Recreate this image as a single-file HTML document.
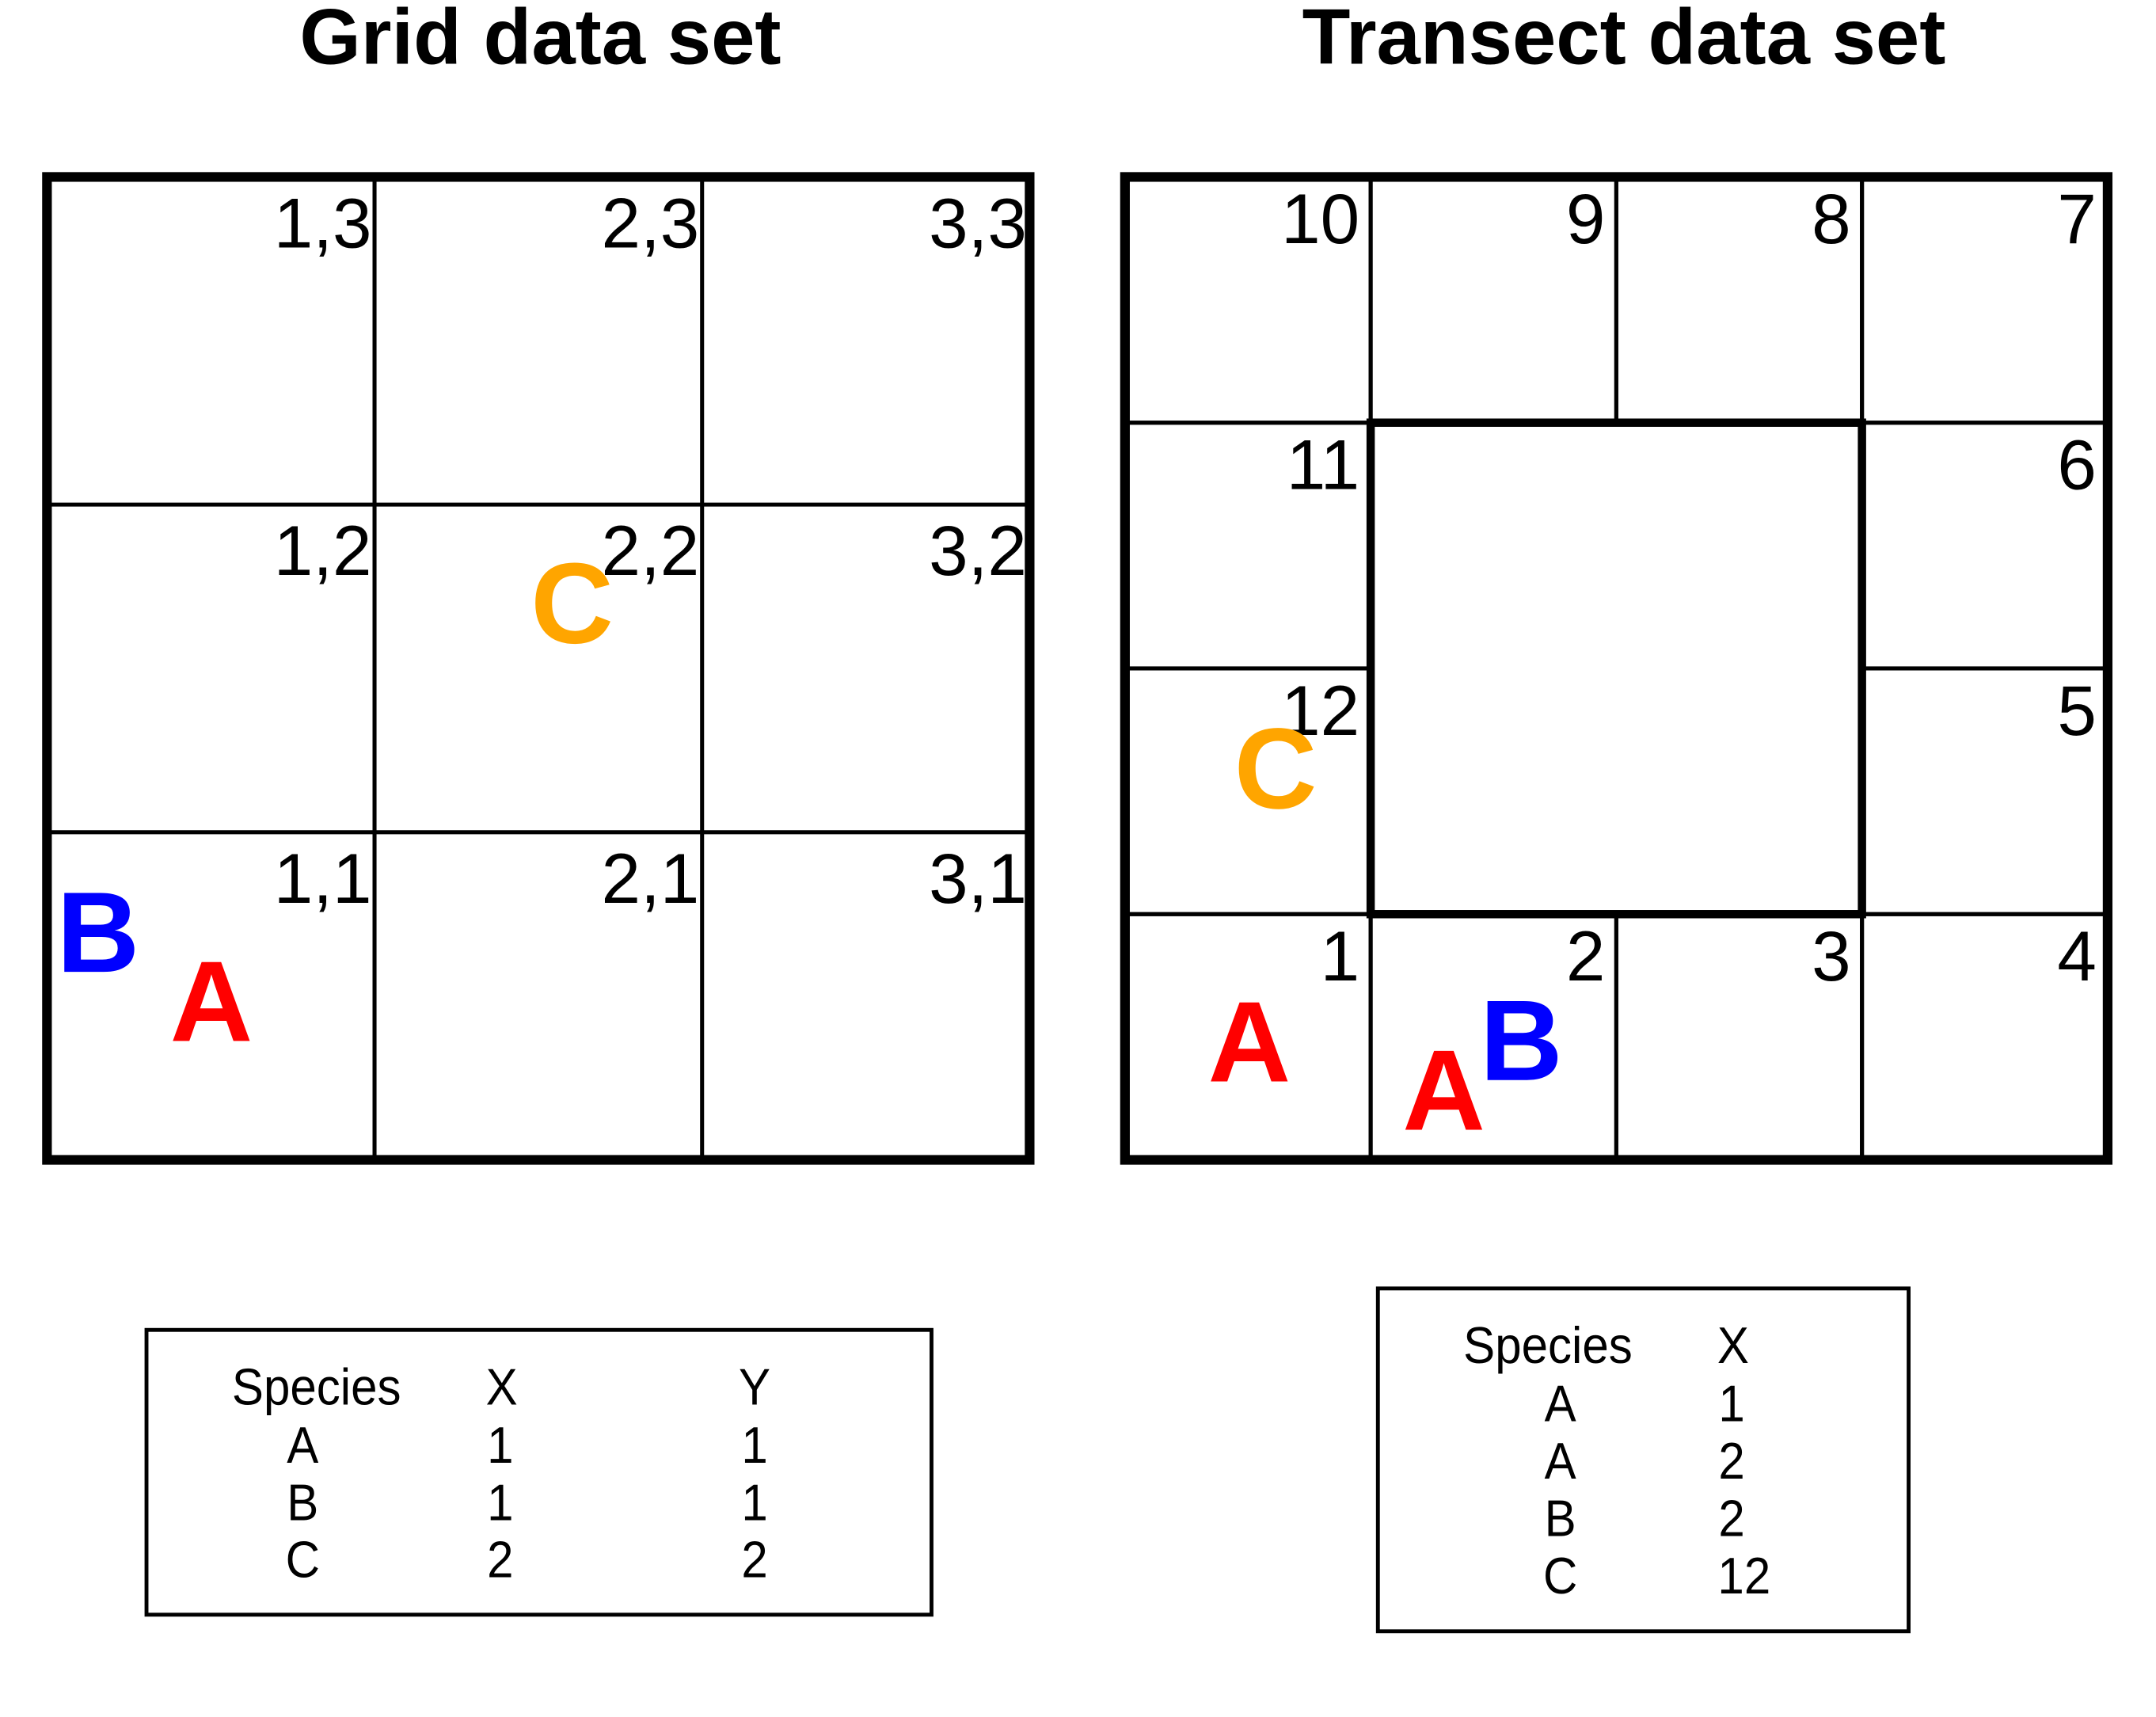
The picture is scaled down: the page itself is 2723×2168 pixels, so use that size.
<!DOCTYPE html>
<html><head><meta charset="utf-8"><style>
html,body{margin:0;padding:0;background:#fff;}
svg{display:block;}
text{font-family:"Liberation Sans",Arial,sans-serif;}
</style></head><body>
<svg id="fig" width="2723" height="2168" viewBox="0 0 1560 1242" preserveAspectRatio="none" xmlns="http://www.w3.org/2000/svg">
<rect width="1560" height="1242" fill="#fff"/>
<text x="391" y="46" font-size="57" font-weight="bold" text-anchor="middle">Grid data set</text>
<text x="1175" y="46" font-size="57" font-weight="bold" text-anchor="middle">Transect data set</text>
<g id="grid"></g>
<g id="tran"></g>
<g id="tab1"></g>
<g id="tab2"></g>
</svg>
<script>
// Grid data set
const gridSpecies = ["A","B","C"];
const gridX = [1,1,2];
const gridY = [1,1,2];
// Transect data set
const tranSpecies = ["A","A","B","C"];
const tranX = [1,2,2,12];
const colors = {A:"#ff0000",B:"#0000ff",C:"#ffa500"};

const NS="http://www.w3.org/2000/svg";
function mk(tag,attrs,parent,txt){const e=document.createElementNS(NS,tag);for(const k in attrs)e.setAttribute(k,attrs[k]);if(txt!==undefined)e.textContent=txt;parent.appendChild(e);return e;}

// ---- grid panel ----
const G=document.getElementById('grid');
const gx0=34,gy0=128,gs=711,gc=gs/3;
function gcx(i){return gx0+(i-1)*gc;}
function gcy(j){return gy0+(3-j)*gc;}
for(let k=1;k<3;k++){
  const vl=mk('line',{x1:gx0+k*gc,y1:gy0,x2:gx0+k*gc,y2:gy0+gs,stroke:'#000','stroke-width':2.9},G);
  
  
  const hl=mk('line',{x1:gx0,y1:gy0+k*gc,x2:gx0+gs,y2:gy0+k*gc,stroke:'#000','stroke-width':2.9},G);
  
  
}
const gb=mk('rect',{x:gx0,y:gy0,width:gs,height:gs,fill:'none',stroke:'#000','stroke-width':7},G);


for(let i=1;i<=3;i++)for(let j=1;j<=3;j++){
  const t=mk('text',{x:gcx(i)+gc-2,y:gcy(j)+51,'font-size':51,'text-anchor':'end'},G,i+','+j);
  
  
}
gridSpecies.forEach((s,k)=>{
  let x,y;
  const cx=gcx(gridX[k]),cy=gcy(gridY[k]);
  if(s==='A'){x=cx+89;y=cy+151;}
  else if(s==='B'){x=cx+7;y=cy+101;}
  else {x=cx+113;y=cy+100;}
  const t=mk('text',{x:x,y:y,'font-size':83,'font-weight':'bold',fill:colors[s]},G,s);
  
  
});

// ---- transect panel ----
const T=document.getElementById('tran');
const tx0=814,ty0=128,ts=711,tc=ts/4;
function tcell(n){
  if(n<=4) return [n-1,3];
  if(n<=7) return [3,7-n];
  if(n<=10) return [10-n,0];
  return [0,n-10];
}
for(let n=1;n<=12;n++){
  const [c,r]=tcell(n);
  const rc=mk('rect',{x:tx0+c*tc,y:ty0+r*tc,width:tc,height:tc,fill:'none',stroke:'#000','stroke-width':2.9},T);
  
  
  const t=mk('text',{x:tx0+c*tc+tc-8,y:ty0+r*tc+48,'font-size':51,'text-anchor':'end'},T,String(n));
  
  
}
const inner=mk('rect',{x:tx0+tc,y:ty0+tc,width:2*tc,height:2*tc,fill:'none',stroke:'#000','stroke-width':6},T);


const tb=mk('rect',{x:tx0,y:ty0,width:ts,height:ts,fill:'none',stroke:'#000','stroke-width':7},T);


const seen={};
tranSpecies.forEach((s,k)=>{
  const n=tranX[k];const [c,r]=tcell(n);
  const cx=tx0+c*tc,cy=ty0+r*tc;
  const idx=(seen[n]=(seen[n]||0)+1);
  let x,y;
  if(s==='A'&&idx===1&&n===1){x=cx+60;y=cy+121;}
  else if(s==='A'){x=cx+23;y=cy+156;}
  else if(s==='B'){x=cx+79;y=cy+120;}
  else {x=cx+79;y=cy+101;}
  const t=mk('text',{x:x,y:y,'font-size':83,'font-weight':'bold',fill:colors[s]},T,s);
  
  
});

// ---- tables ----
function txt(p,x,y,s,name){
  const t=mk('text',{x:x,y:y,'font-size':37,'text-anchor':'middle',transform:`translate(${x},0) scale(0.93,1) translate(${-x},0)`},p,s);
  
  
  return t;
}
const T1=document.getElementById('tab1');
const r1=mk('rect',{x:106,y:962,width:568,height:206,fill:'none',stroke:'#000','stroke-width':2.8},T1);


txt(T1,229,1016,'Species','table-header');txt(T1,363,1016,'X','table-header');txt(T1,546,1016,'Y','table-header');
gridSpecies.forEach((s,k)=>{
  const y=1058+k*41.5;
  txt(T1,219,y,s,'table-species');txt(T1,362,y,String(gridX[k]),'table-x');txt(T1,546,y,String(gridY[k]),'table-y');
});
const T2=document.getElementById('tab2');
const r2=mk('rect',{x:997,y:932,width:384,height:248,fill:'none',stroke:'#000','stroke-width':2.8},T2);


txt(T2,1120,986,'Species','table-header');txt(T2,1254,986,'X','table-header');
tranSpecies.forEach((s,k)=>{
  const y=1028+k*41.5;
  txt(T2,1129,y,s,'table-species');
  const v=String(tranX[k]);
  txt(T2,1244+v.length*9,y,v,'table-x');
});
</script>
</body></html>
